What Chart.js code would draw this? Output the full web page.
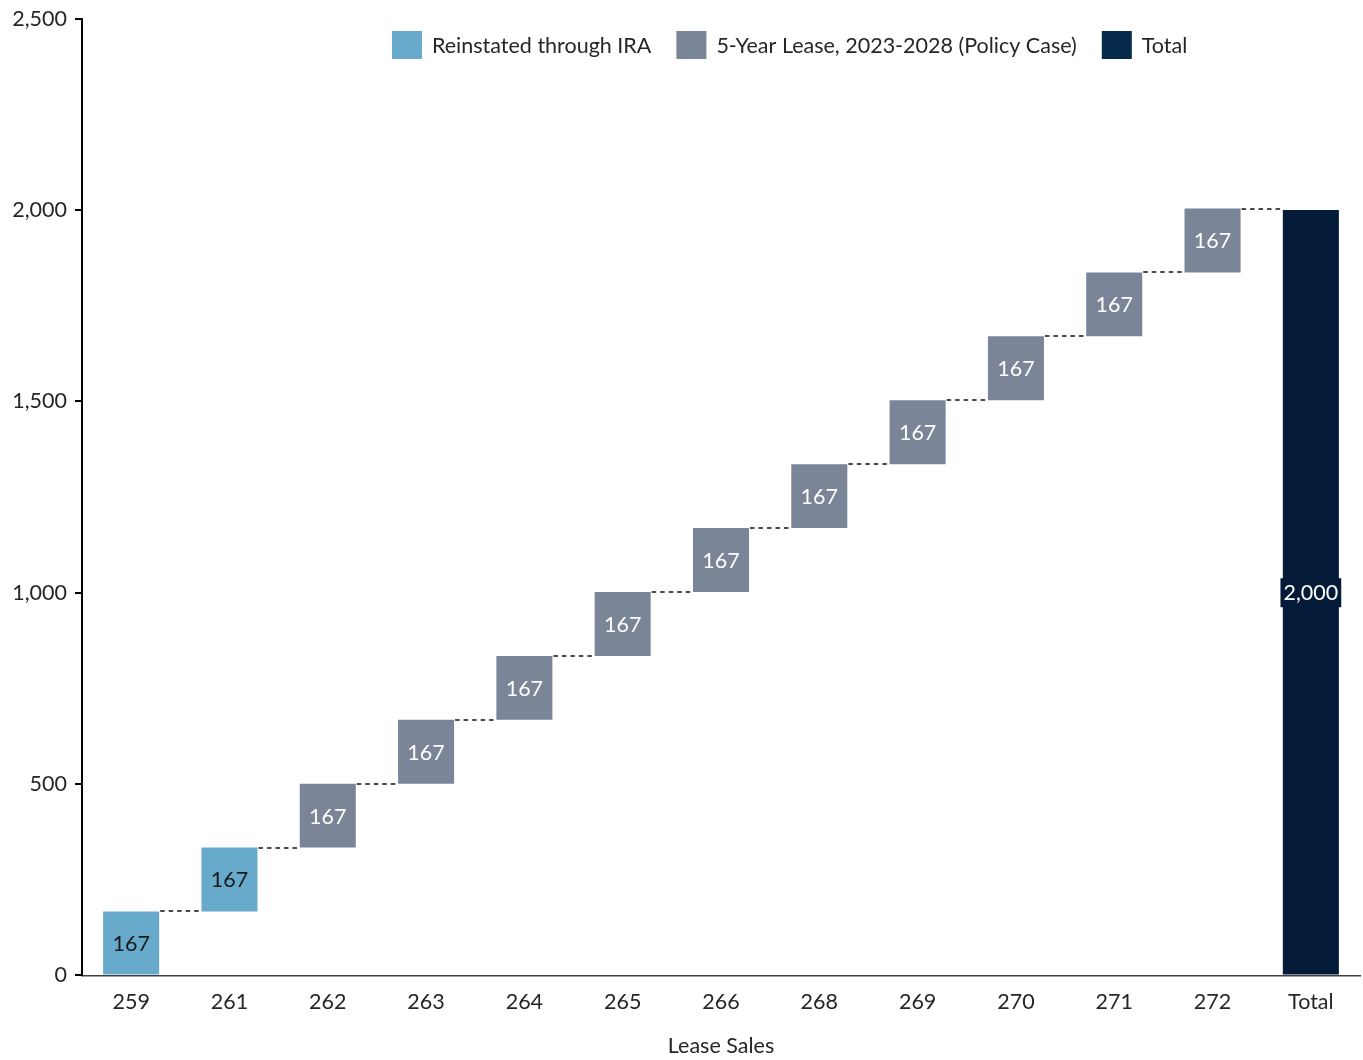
<!DOCTYPE html>
<html>
<head>
<meta charset="utf-8">
<title>Lease Sales</title>
<script src="https://cdn.jsdelivr.net/npm/chart.js@4.4.1/dist/chart.umd.min.js"></script>
<style>
  html, body { margin: 0; padding: 0; background: #ffffff; }
  #wrap { width: 1363px; height: 1060px; position: relative; }
</style>
</head>
<body>
<div id="wrap"><canvas id="chart"></canvas></div>
<script>
// Lease sales, in order along the axis
const categories = ['259', '261', '262', '263', '264', '265', '266', '268', '269', '270', '271', '272', 'Total'];
// Step sizes for each group
const reinstatedValues = [167, 167];
const policyCaseValues = [167, 167, 167, 167, 167, 167, 167, 167, 167, 167];
const totalValue = 2000;
// Y-axis tick values
const yTicks = [0, 500, 1000, 1500, 2000, 2500];

const seriesNames = ['Reinstated through IRA', '5-Year Lease, 2023-2028 (Policy Case)', 'Total'];
const colors = { reinstated: '#67AACB', policy: '#7A8598', total: '#031A38' };
const FONT = "Lato, 'Open Sans', sans-serif";
const FONT_SIZE = 21.5;

// Build floating [start, end] ranges for the waterfall
const n = categories.length;
const reinstatedData = new Array(n).fill(null);
const policyData = new Array(n).fill(null);
const totalData = new Array(n).fill(null);
let running = 0;
let idx = 0;
reinstatedValues.forEach(v => { reinstatedData[idx++] = [running, running + v]; running += v; });
policyCaseValues.forEach(v => { policyData[idx++] = [running, running + v]; running += v; });
totalData[idx] = [0, totalValue];

// Dashed connectors between consecutive bars
const connectorPlugin = {
  id: 'connectors',
  afterDatasetsDraw(chart) {
    const ctx = chart.ctx;
    const y = chart.scales.y;
    const bars = [];
    chart.data.datasets.forEach((ds, di) => {
      const meta = chart.getDatasetMeta(di);
      ds.data.forEach((d, i) => { if (d) bars[i] = { el: meta.data[i], range: d }; });
    });
    ctx.save();
    ctx.strokeStyle = '#111111';
    ctx.lineWidth = 1.6;
    ctx.setLineDash([4.5, 4]);
    for (let i = 0; i < bars.length - 1; i++) {
      const a = bars[i], b = bars[i + 1];
      if (!a || !b) continue;
      const yy = Math.round(y.getPixelForValue(a.range[1]));
      const x0 = a.el.x + a.el.width / 2 + 1;
      const x1 = b.el.x - b.el.width / 2;
      ctx.beginPath();
      ctx.moveTo(x0, yy);
      ctx.lineTo(x1, yy);
      ctx.stroke();
    }
    ctx.restore();
  }
};

// Value labels inside each bar
const valueLabelPlugin = {
  id: 'valueLabels',
  afterDatasetsDraw(chart) {
    const ctx = chart.ctx;
    ctx.save();
    ctx.font = FONT_SIZE + 'px ' + FONT;
    ctx.textAlign = 'center';
    ctx.textBaseline = 'middle';
    chart.data.datasets.forEach((ds, di) => {
      const meta = chart.getDatasetMeta(di);
      ds.data.forEach((d, i) => {
        if (!d) return;
        const el = meta.data[i];
        const txt = (d[1] - d[0]).toLocaleString('en-US');
        const cy = (el.y + el.base) / 2;
        if (ds.labelBox) {
          const w = ctx.measureText(txt).width + 6;
          ctx.fillStyle = ds.backgroundColor;
          ctx.fillRect(el.x - w / 2, cy - 14, w, 29);
        }
        ctx.fillStyle = ds.labelColor;
        ctx.fillText(txt, el.x, cy + 1);
      });
    });
    ctx.restore();
  }
};

// Legend drawn across the top of the plot area
const legendPlugin = {
  id: 'topLegend',
  afterDraw(chart) {
    const ctx = chart.ctx;
    ctx.save();
    ctx.font = FONT_SIZE + 'px ' + FONT;
    ctx.textBaseline = 'middle';
    ctx.textAlign = 'left';
    let x = 392;
    const yTop = 31, boxW = 30, boxH = 28;
    chart.data.datasets.forEach(ds => {
      ctx.fillStyle = ds.legendColor || ds.backgroundColor;
      ctx.fillRect(x, yTop, boxW, boxH);
      ctx.fillStyle = '#262626';
      ctx.fillText(ds.label, x + 40, yTop + boxH / 2 + 1);
      x += 40 + ctx.measureText(ds.label).width + 25;
    });
    ctx.restore();
  }
};

const barCommon = { grouped: false, skipNull: true, categoryPercentage: 1, barPercentage: 0.57 };

new Chart(document.getElementById('chart'), {
  type: 'bar',
  data: {
    labels: categories,
    datasets: [
      Object.assign({ label: seriesNames[0], data: reinstatedData, backgroundColor: colors.reinstated, labelColor: '#1a1a1a' }, barCommon),
      Object.assign({ label: seriesNames[1], data: policyData, backgroundColor: colors.policy, labelColor: '#ffffff' }, barCommon),
      Object.assign({ label: seriesNames[2], data: totalData, backgroundColor: colors.total, legendColor: '#062A49', labelColor: '#ffffff', labelBox: true }, barCommon)
    ]
  },
  options: {
    responsive: true,
    maintainAspectRatio: false,
    animation: false,
    layout: { padding: { top: 0, right: 3, bottom: 1, left: 0 } },
    plugins: {
      legend: { display: false },
      tooltip: { enabled: false }
    },
    scales: {
      x: {
        grid: { display: false },
        border: { display: true, color: '#404040', width: 1.5 },
        ticks: { color: '#262626', font: { family: FONT, size: FONT_SIZE }, padding: 6 },
        title: { display: true, text: 'Lease Sales', color: '#262626', font: { family: FONT, size: FONT_SIZE }, padding: { top: 12, bottom: 0 } }
      },
      y: {
        min: 0,
        max: 2500,
        afterBuildTicks(scale) { scale.ticks = yTicks.map(v => ({ value: v })); },
        afterFit(scale) { scale.width = 82; },
        grid: { display: true, drawOnChartArea: false, drawTicks: true, tickLength: 7, color: '#000000', lineWidth: 2 },
        border: { display: true, color: '#000000', width: 2 },
        ticks: {
          color: '#262626',
          font: { family: FONT, size: FONT_SIZE, lineHeight: 1 },
          padding: 8,
          callback: v => Number(v).toLocaleString('en-US')
        }
      }
    }
  },
  plugins: [connectorPlugin, valueLabelPlugin, legendPlugin]
});
</script>
</body>
</html>
